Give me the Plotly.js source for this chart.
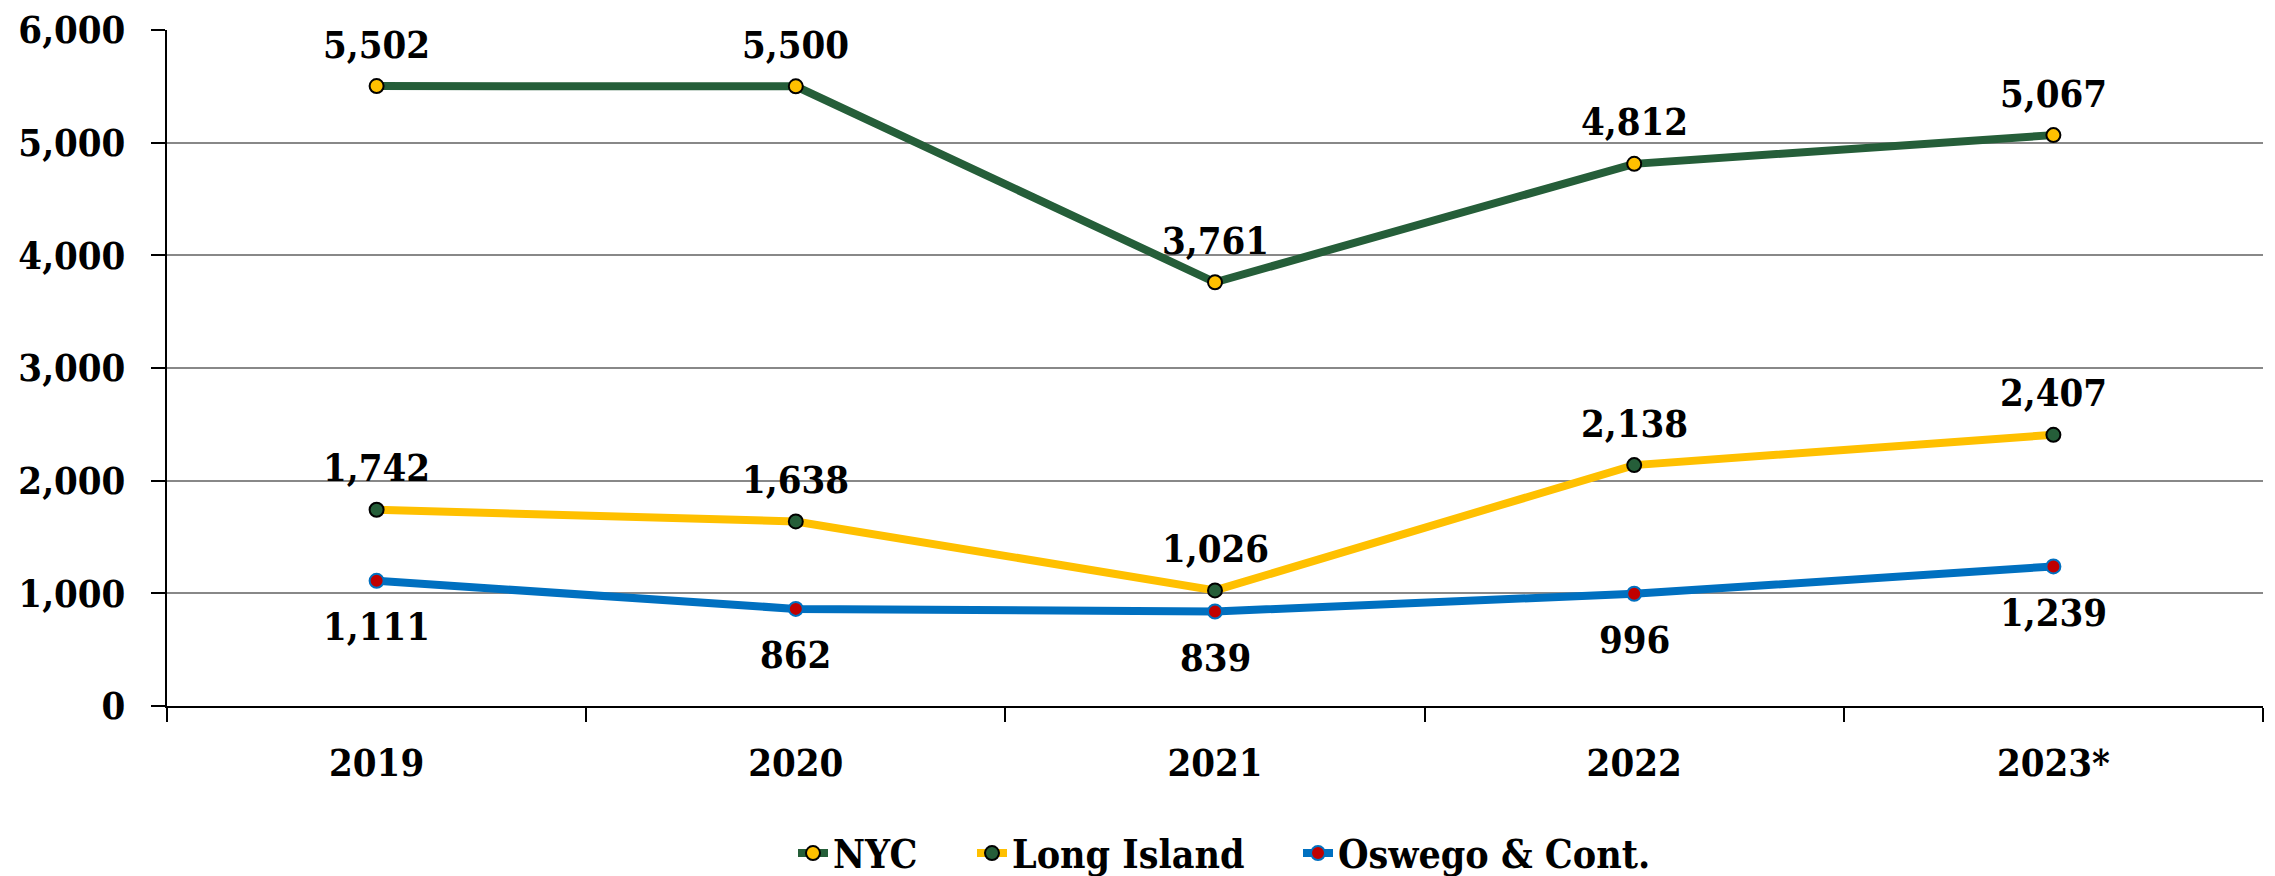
<!DOCTYPE html>
<html>
<head>
<meta charset="utf-8">
<script src="https://cdn.plot.ly/plotly-3.0.1.min.js"></script>
<style>
html,body{margin:0;padding:0;background:#fff;}
#chart{width:2275px;height:876px;}
</style>
</head>
<body>
<div id="chart"></div>
<script>
const years = ['2019', '2020', '2021', '2022', '2023*'];
const nycValues = [5502, 5500, 3761, 4812, 5067];
const longIslandValues = [1742, 1638, 1026, 2138, 2407];
const oswegoValues = [1111, 862, 839, 996, 1239];
const seriesNames = ['NYC', 'Long Island', 'Oswego & Cont.'];
const yTickValues = [0, 1000, 2000, 3000, 4000, 5000, 6000];

const FONT = '"DejaVu Serif Condensed", "DejaVu Serif", serif';
const fmt = v => v.toLocaleString('en-US');

const GREEN = '#255E39', GOLD = '#FFC000', BLUE = '#0070C0', RED = '#C00000';

const traces = [
  {
    x: years, y: nycValues, name: seriesNames[0], type: 'scatter', mode: 'lines+markers',
    line: {color: GREEN, width: 8},
    marker: {size: 14, color: GOLD, line: {color: '#000', width: 2}},
    legend: 'legend', hoverinfo: 'y'
  },
  {
    x: years, y: longIslandValues, name: seriesNames[1], type: 'scatter', mode: 'lines+markers',
    line: {color: GOLD, width: 8},
    marker: {size: 14, color: GREEN, line: {color: '#000', width: 2}},
    legend: 'legend2', hoverinfo: 'y'
  },
  {
    x: years, y: oswegoValues, name: seriesNames[2], type: 'scatter', mode: 'lines+markers',
    line: {color: BLUE, width: 8},
    marker: {size: 14, color: RED, line: {color: BLUE, width: 2}},
    legend: 'legend3', hoverinfo: 'y'
  }
];

const annotations = [];
const addLabels = (vals, shift) => vals.forEach((v, i) => annotations.push({
  x: i, y: v, text: fmt(v), showarrow: false, yshift: shift,
  xref: 'x', yref: 'y',
  font: {family: FONT, size: 38, color: '#000', weight: 'bold'}
}));
addLabels(nycValues, 42);
addLabels(longIslandValues, 42);
addLabels(oswegoValues, -46);

const legendFont = {family: FONT, size: 39, color: '#000', weight: 'bold'};
const mkLegend = (xLeft) => ({
  orientation: 'h', x: xLeft / 2275, xanchor: 'left', xref: 'container',
  y: 0.026, yanchor: 'middle', yref: 'container',
  font: legendFont, bgcolor: 'rgba(0,0,0,0)', borderwidth: 0
});

const layout = {
  width: 2275, height: 876,
  margin: {l: 167, r: 12, t: 30, b: 170, autoexpand: false},
  paper_bgcolor: '#fff', plot_bgcolor: '#fff',
  font: {family: FONT, size: 38, color: '#000', weight: 'bold'},
  showlegend: true,
  legend: mkLegend(793),
  legend2: mkLegend(972),
  legend3: mkLegend(1298),
  xaxis: {
    type: 'category', range: [-0.5, 4.5], tickson: 'boundaries',
    ticks: 'outside', ticklen: 14, tickwidth: 2, tickcolor: '#000',
    showline: true, linecolor: '#000', linewidth: 2,
    showgrid: false, zeroline: false, automargin: false,
    ticklabelstandoff: 22,
    tickfont: {family: FONT, size: 38, color: '#000', weight: 'bold'}
  },
  yaxis: {
    range: [0, 6000], tickvals: yTickValues, ticktext: yTickValues.map(fmt),
    ticks: 'outside', ticklen: 14, tickwidth: 2, tickcolor: '#000',
    showline: true, linecolor: '#000', linewidth: 2,
    showgrid: true, gridcolor: '#888888', gridwidth: 2,
    zeroline: false, automargin: false,
    ticklabelstandoff: 18,
    tickfont: {family: FONT, size: 38, color: '#000', weight: 'bold'}
  },
  annotations: annotations
};

Plotly.newPlot('chart', traces, layout, {displayModeBar: false, staticPlot: true});
</script>
</body>
</html>
